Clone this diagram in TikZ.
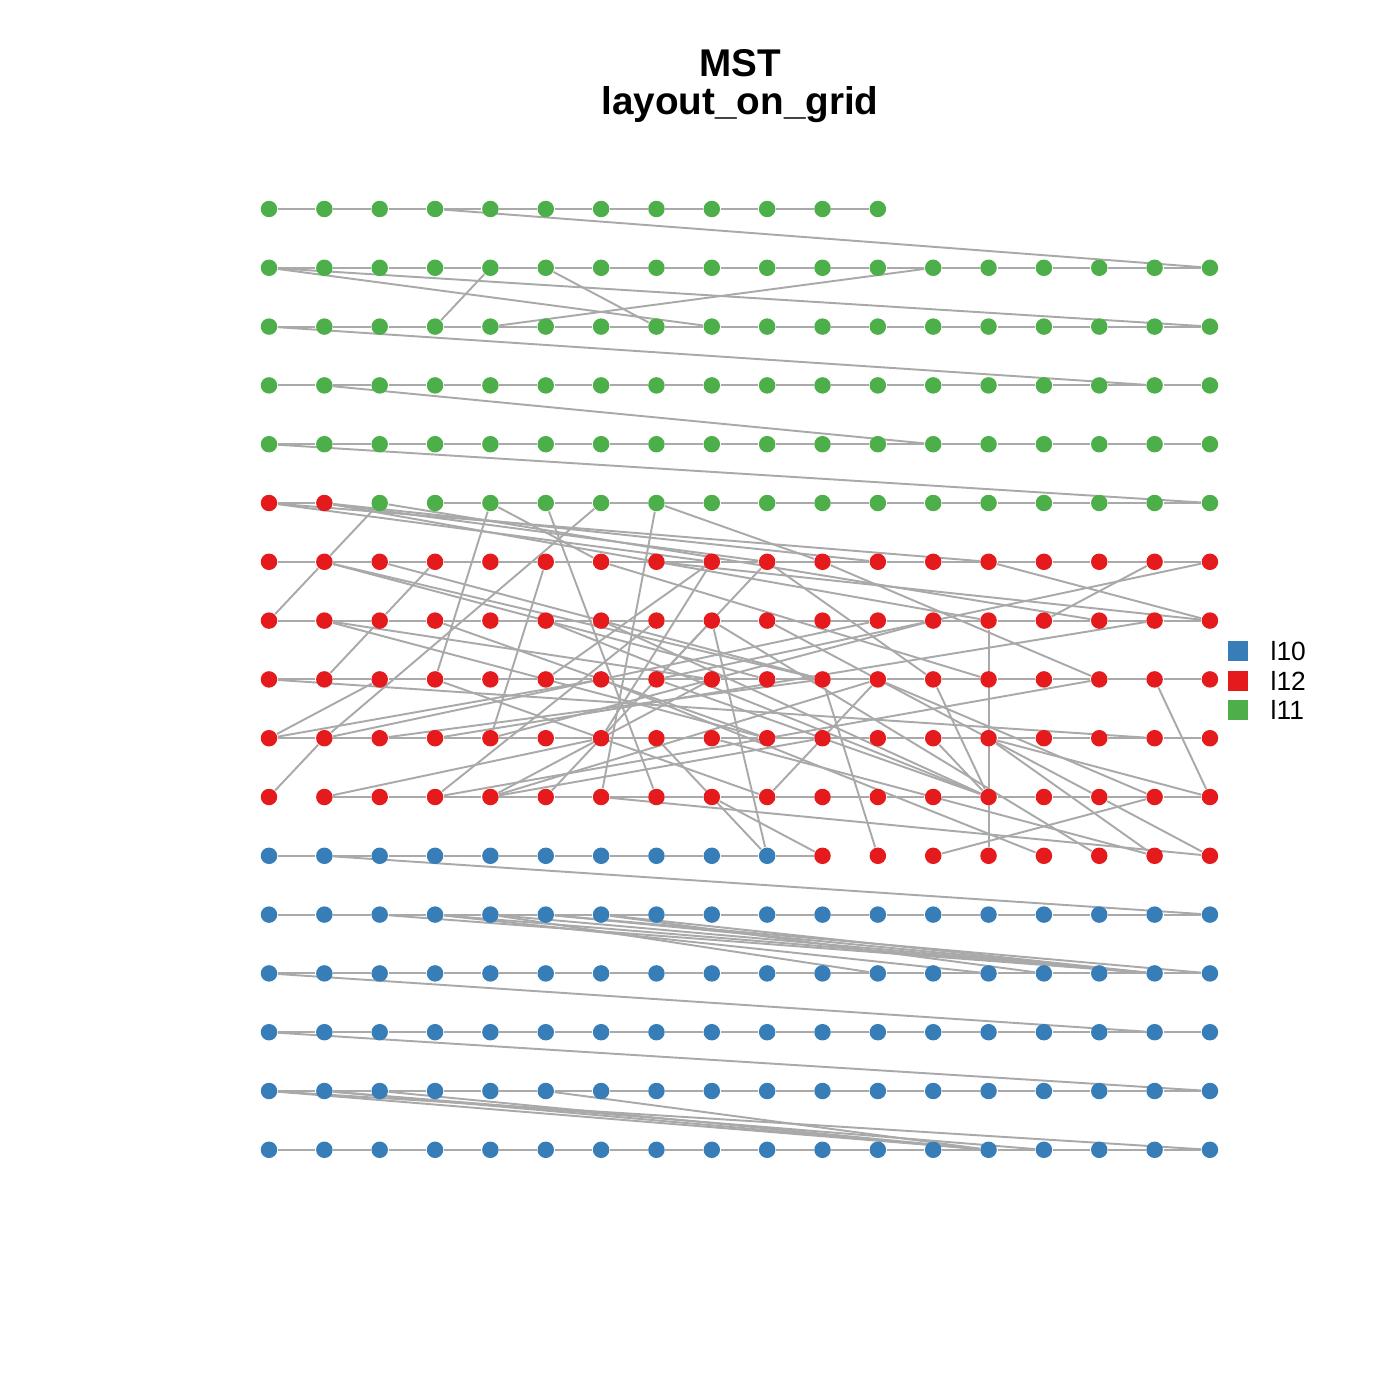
\documentclass[tikz,border=0pt]{standalone}
\usepackage{fontspec}
\setmainfont{Liberation Sans}
\usetikzlibrary{backgrounds}
\definecolor{grpten}{HTML}{377EB8}
\definecolor{grptwelve}{HTML}{E41A1C}
\definecolor{grpeleven}{HTML}{4DAF4A}
\definecolor{edgegray}{HTML}{A9A9A9}

\begin{document}
\begin{tikzpicture}[x=0.5535cm, y=-0.588cm,
    dot/.style={circle, inner sep=0pt, minimum size=0.165cm},
    edge/.style={draw=edgegray, line width=0.55pt},
    key/.style={inner sep=0pt, minimum size=0.2cm}]
  \useasboundingbox (-2.69cm,2.09cm) rectangle (11.31cm,-11.91cm);

  % title
  \node[anchor=base, font=\fontsize{11}{13}\selectfont\bfseries] (title) at (4.71cm,1.32cm) {MST};
  \node[anchor=base, font=\fontsize{11}{13}\selectfont\bfseries] (subtitle) at (4.71cm,0.95cm) {layout\_on\_grid};

  % vertices, row by row
  \foreach \c in {0,...,11} \node[dot, fill=grpeleven] (n0-\c) at (\c,0) {};
  \foreach \r in {1,...,4} \foreach \c in {0,...,17} \node[dot, fill=grpeleven] (n\r-\c) at (\c,\r) {};
  \foreach \c in {0,1} \node[dot, fill=grptwelve] (n5-\c) at (\c,5) {};
  \foreach \c in {2,...,17} \node[dot, fill=grpeleven] (n5-\c) at (\c,5) {};
  \foreach \r in {6,...,10} \foreach \c in {0,...,17} \node[dot, fill=grptwelve] (n\r-\c) at (\c,\r) {};
  \foreach \c in {0,...,9} \node[dot, fill=grpten] (n11-\c) at (\c,11) {};
  \foreach \c in {10,...,17} \node[dot, fill=grptwelve] (n11-\c) at (\c,11) {};
  \foreach \r in {12,...,16} \foreach \c in {0,...,17} \node[dot, fill=grpten] (n\r-\c) at (\c,\r) {};

  % legend
  \node[key, fill=grpten] (k10) at (9.69cm,-4.42cm) {};
  \node[key, fill=grptwelve] (k12) at (9.69cm,-4.72cm) {};
  \node[key, fill=grpeleven] (k11) at (9.69cm,-5.01cm) {};
  \node[anchor=west, inner sep=0pt, font=\fontsize{7.5}{9}\selectfont] (l10) at (10.01cm,-4.42cm) {l10};
  \node[anchor=west, inner sep=0pt, font=\fontsize{7.5}{9}\selectfont] (l12) at (10.01cm,-4.72cm) {l12};
  \node[anchor=west, inner sep=0pt, font=\fontsize{7.5}{9}\selectfont] (l11) at (10.01cm,-5.01cm) {l11};

  \begin{scope}[on background layer]
    % neighbours along a row
    \foreach \r/\from/\to in {0/0/10, 1/0/16, 2/0/16, 3/0/16, 4/0/16, 5/0/0, 5/3/16,
        6/0/16, 7/0/16, 8/0/16, 9/0/16, 10/1/16, 11/0/9,
        12/0/16, 13/0/16, 14/0/16, 15/0/16, 16/0/16}
      \foreach \c in {\from,...,\to} {
        \pgfmathtruncatemacro\d{\c+1}
        \draw[edge] (n\r-\c) -- (n\r-\d);
      }
    % longer tree edges
    \foreach \ra/\ca/\rb/\cb in {
        0/3/1/17, 1/0/2/17, 1/0/2/8, 1/4/2/3, 1/5/2/7, 2/4/1/12, 2/0/3/16, 3/1/4/12, 4/0/5/17,
        5/0/6/13, 5/0/6/8, 5/1/6/11, 5/1/6/9, 5/1/7/13, 5/2/6/1, 6/1/7/0, 5/2/7/15,
        5/4/8/3, 5/4/6/6, 5/5/10/7, 5/6/9/1, 5/7/10/6, 5/7/6/10,
        6/13/7/17, 6/16/7/14, 6/17/8/7, 6/2/8/10, 6/1/8/9, 6/1/8/10,
        8/1/7/2, 7/2/6/3, 6/5/9/4, 9/0/8/2, 9/0/8/6, 6/6/8/13, 6/7/7/17,
        6/8/9/6, 6/9/8/7, 6/9/8/12, 6/10/8/15, 9/1/7/11, 9/2/8/10, 10/1/9/6,
        10/3/7/7, 10/4/8/8, 10/4/8/11, 10/4/9/10, 10/5/7/8, 8/0/9/16, 8/3/10/9,
        11/9/7/8, 11/9/9/7, 11/10/10/8, 8/10/11/11, 10/6/11/17, 10/9/8/11,
        7/13/11/13, 8/16/10/17, 10/16/11/12, 8/12/10/13, 9/12/10/13, 9/13/10/17,
        9/13/11/16, 10/15/11/17, 9/4/7/12, 9/3/7/16, 7/1/8/8, 7/1/9/9, 7/3/9/9,
        8/5/6/8, 10/0/9/1, 10/3/8/15, 7/5/10/13, 7/6/10/13, 8/7/10/13, 8/6/11/14,
        7/8/11/15, 9/8/11/16, 7/9/10/15, 8/11/10/16,
        11/1/12/17, 12/2/13/16, 12/3/13/16, 12/3/13/13, 12/4/13/16, 12/4/13/11,
        12/5/13/16, 12/5/13/17, 12/6/13/16, 12/6/13/14, 13/0/14/16, 14/0/15/17,
        15/0/16/13, 15/1/16/13, 15/1/16/14, 15/2/16/13, 15/5/16/13, 15/0/16/17}
      \draw[edge] (n\ra-\ca) -- (n\rb-\cb);
  \end{scope}
\end{tikzpicture}
\end{document}
